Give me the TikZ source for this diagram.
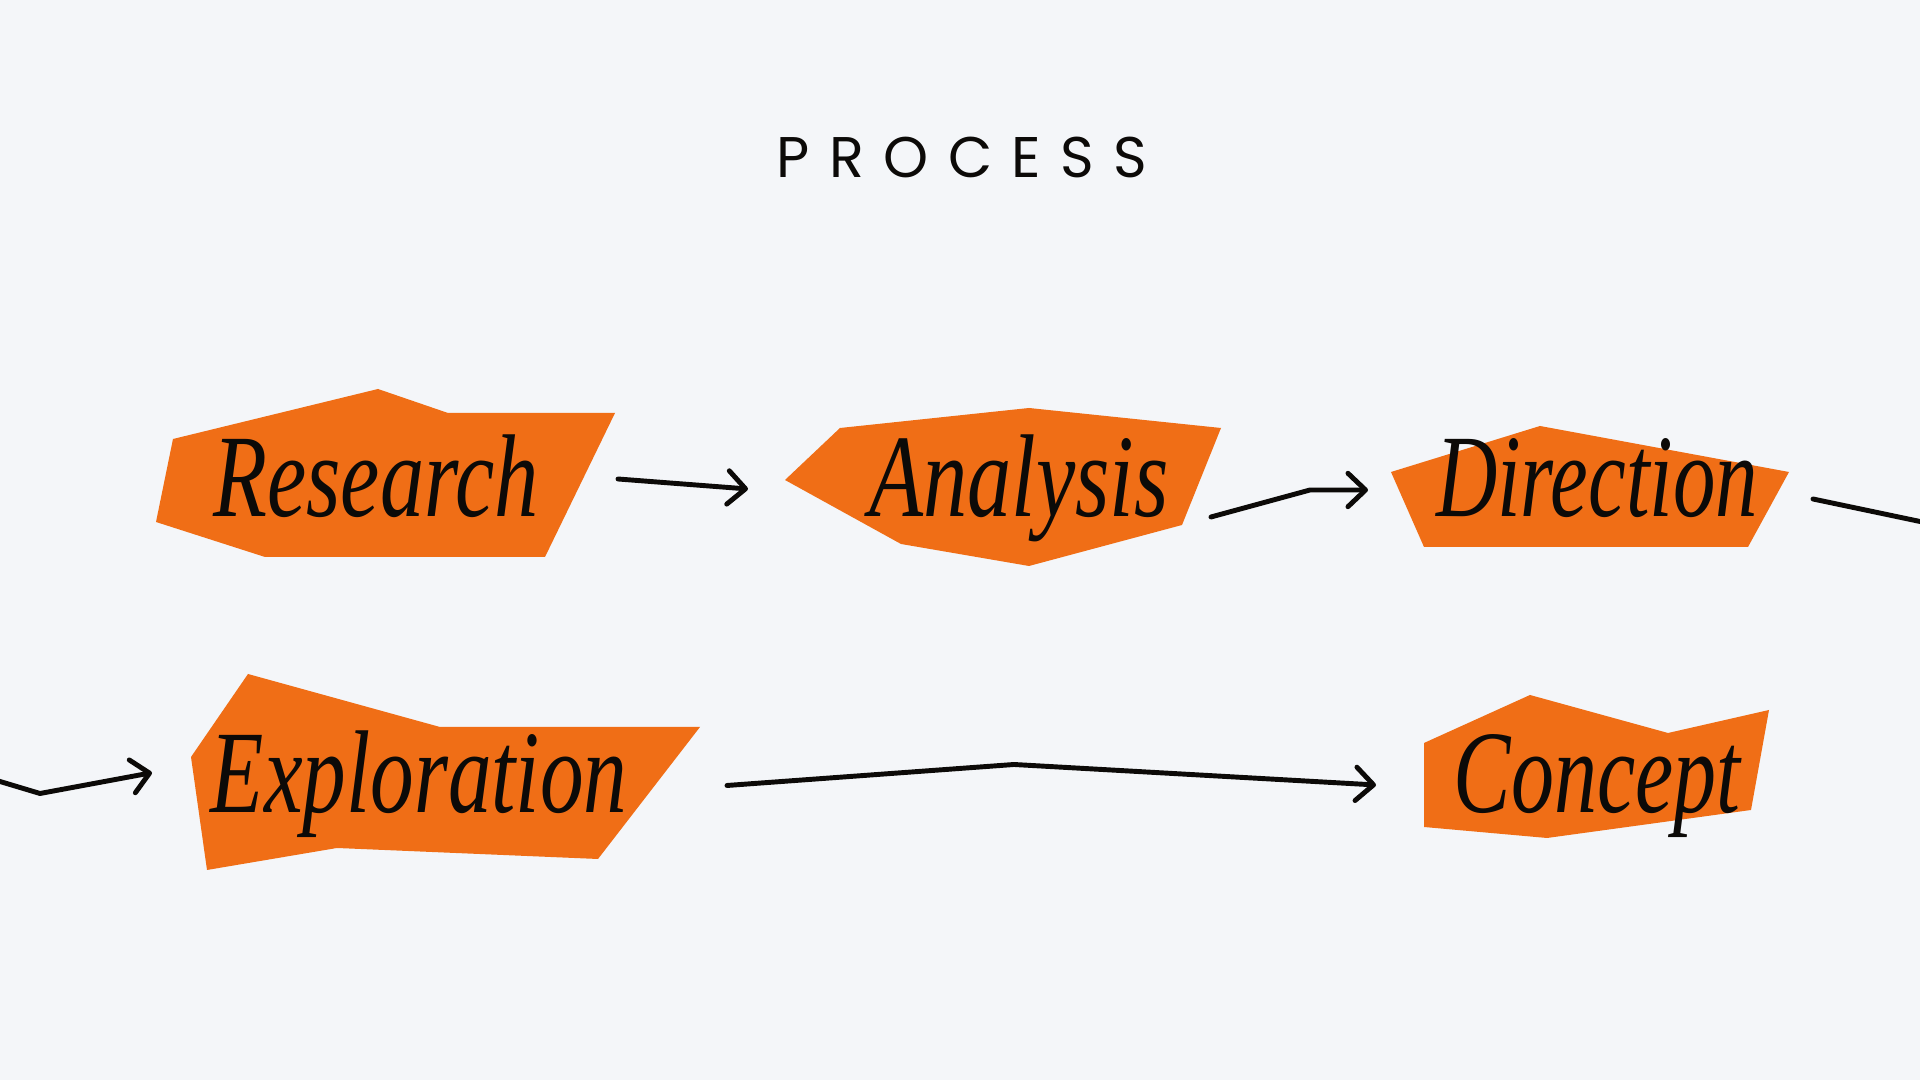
\documentclass[tikz,border=0pt]{standalone}
\usepackage{fontspec}
\usepackage{graphicx}
\usetikzlibrary{arrows.meta}
\newfontfamily\dispfont{Liberation Serif}
\newfontfamily\titlefont[LetterSpace=34]{Poppins}
\definecolor{bg}{RGB}{244,246,249}
\definecolor{tag}{RGB}{240,110,22}
\definecolor{ink}{RGB}{12,10,8}
\begin{document}
\begin{tikzpicture}[x=0.01cm,y=-0.01cm,
  tagshape/.style={fill=tag},
  word/.style={anchor=base, inner sep=0pt, text=ink, font=\dispfont\itshape\fontsize{33.5}{33.5}\selectfont},
  link/.style={draw=ink, line width=1.4pt, line cap=round, line join=round},
  arrowlink/.style={link, -{Straight Barb[length=5pt,width=9.5pt,round]}}]
\fill[bg] (0,0) rectangle (1920,1080);
\useasboundingbox (0,0) rectangle (1920,1080);

% title
\node[font=\titlefont\fontsize{16.3}{16.3}\selectfont, text=ink, anchor=base, inner sep=0pt] (title) at (962,178) {PROCESS};

% tag shapes
\fill[tagshape] (173,439) -- (378,389) -- (448,413) -- (615,413) -- (545,557) -- (265,557) -- (156,522) -- cycle;
\fill[tagshape] (840,428) -- (1029,408) -- (1221,428) -- (1182,525) -- (1029,566) -- (901,544) -- (785,480) -- cycle;
\fill[tagshape] (1391,472) -- (1540,426) -- (1789,472) -- (1748,547) -- (1424,547) -- cycle;
\fill[tagshape] (248,674) -- (440,727) -- (700,727) -- (598,859) -- (337,848) -- (207,870) -- (191,757) -- cycle;
\fill[tagshape] (1424,743) -- (1530,695) -- (1668,733) -- (1769,710) -- (1751,810) -- (1547,838) -- (1424,827) -- cycle;

% words
\node[word] (research) at (376,517) {\scalebox{0.75}[1]{Research}};
\node[word] (analysis) at (1019,517) {\scalebox{0.75}[1]{Analysis}};
\node[word] (direction) at (1597,517) {\scalebox{0.72}[1]{Direction}};
\node[word] (exploration) at (419,813) {\scalebox{0.74}[1]{Exploration}};
\node[word] (concept) at (1597,813) {\scalebox{0.73}[1]{Concept}};

% connector points
\coordinate (resOut) at (618,479);
\coordinate (anaIn) at (748,489);
\coordinate (anaOut) at (1211,517);
\coordinate (anaBend) at (1310,490);
\coordinate (dirIn) at (1368,490);
\coordinate (dirOut) at (1813,499);
\coordinate (rightEdge) at (1920,521.5);
\coordinate (leftEdge) at (-10,778.5);
\coordinate (leftBend) at (40,793.5);
\coordinate (expIn) at (152,772.7);
\coordinate (expOut) at (727,785.5);
\coordinate (midBend) at (1014,764.5);
\coordinate (conIn) at (1376,785);

\draw[arrowlink] (resOut) -- (anaIn);
\draw[arrowlink] (anaOut) -- (anaBend) -- (dirIn);
\draw[link] (dirOut) -- (rightEdge);
\draw[arrowlink] (leftEdge) -- (leftBend) -- (expIn);
\draw[arrowlink] (expOut) -- (midBend) -- (conIn);
\end{tikzpicture}
\end{document}
